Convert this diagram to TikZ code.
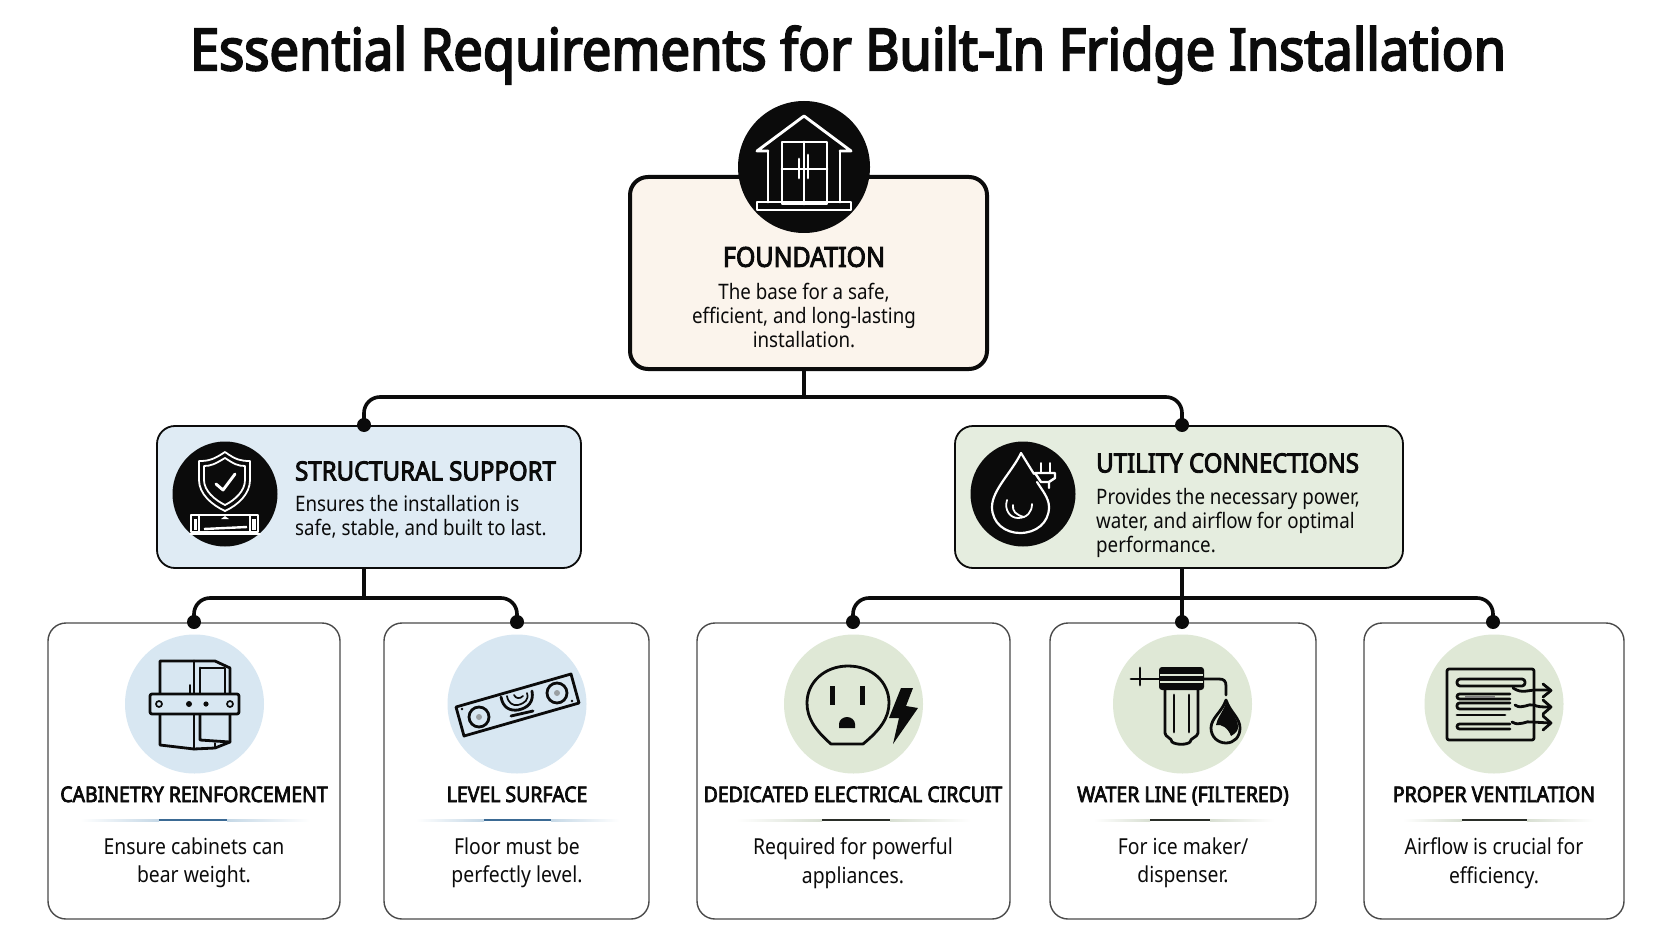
\documentclass[tikz,border=0pt]{standalone}
\usepackage{fontspec}
\setmainfont{Noto Sans}[FakeStretch=0.88]
\newfontfamily\boldface{Noto Sans}[FakeStretch=0.905,FakeBold=3.4]
\usetikzlibrary{calc}
\definecolor{ink}{HTML}{0B0B0B}
\definecolor{cream}{HTML}{FBF4EC}
\definecolor{paleblue}{HTML}{DFEBF4}
\definecolor{palegreen}{HTML}{E5EDDF}
\definecolor{discblue}{HTML}{D8E7F2}
\definecolor{discgreen}{HTML}{DFE8D6}
\definecolor{edge}{HTML}{4A4A4A}
\definecolor{ruleblue}{HTML}{3B6A94}
\definecolor{lightblue}{HTML}{C5D8E6}
\definecolor{rulegreen}{HTML}{2A2E28}
\definecolor{lightgreen}{HTML}{D8DFD2}
\tikzset{
  x=1pt,y=-1pt,
  conn/.style={draw=ink,line width=3.6pt,rounded corners=16pt},
  joint/.style={circle,fill=ink,minimum size=14pt,inner sep=0pt,outer sep=0pt},
  rootbox/.style={draw=ink,line width=4pt,fill=cream,rounded corners=18pt,inner sep=0pt,outer sep=0pt},
  midbox/.style={draw=ink,line width=1.8pt,rounded corners=18pt,inner sep=0pt,outer sep=0pt},
  card/.style={draw=edge,line width=1.4pt,fill=white,rounded corners=18pt,inner sep=0pt,outer sep=0pt},
  blackdisc/.style={circle,fill=ink,inner sep=0pt,outer sep=0pt},
  disc/.style={circle,minimum size=139pt,inner sep=0pt,outer sep=0pt},
  ttl/.style={text=ink,inner sep=0pt,font=\boldface\fontsize{58}{64}\selectfont},
  roothead/.style={text=ink,inner sep=0pt,font=\boldface\fontsize{27.5}{30}\selectfont},
  midhead/.style={text=ink,inner sep=0pt,anchor=west,font=\boldface\fontsize{26.5}{30}\selectfont},
  midtext/.style={text=ink,inner sep=0pt,anchor=north west,align=left,font=\fontsize{21.3}{24}\selectfont},
  roottext/.style={text=ink,inner sep=0pt,align=center,font=\fontsize{21.3}{24}\selectfont},
  cardhead/.style={text=ink,inner sep=0pt,anchor=base,font=\boldface\fontsize{21.5}{26}\selectfont},
  cardtext/.style={text=ink,inner sep=0pt,align=center,font=\fontsize{22}{28.5}\selectfont},
  wline/.style={draw=white,line width=2.9pt,line join=round,line cap=round},
  wthin/.style={draw=white,line width=1.8pt,line join=round,line cap=round},
  kline/.style={draw=ink,line width=2.8pt,line join=round,line cap=round},
  kthin/.style={draw=ink,line width=1.7pt,line join=round,line cap=round},
}
\newcommand{\cardrule}[6]{%
  \shade[left color=white,right color=#5] (#1,819) rectangle (#2,821);
  \shade[right color=white,left color=#5] (#3,819) rectangle (#4,821);
  \fill[#6] (#2,818.8) rectangle (#3,821.4);
}
\begin{document}
\begin{tikzpicture}
\useasboundingbox (0,0) rectangle (1672,941);
\fill[white] (0,0) rectangle (1672,941);

\node[ttl] (title) at (848,55) {Essential Requirements for Built-In Fridge Installation};

% boxes
\node[rootbox,minimum width=357pt,minimum height=192pt] (found) at (808.5,273) {};
\node[midbox,fill=paleblue,minimum width=424pt,minimum height=142pt] (struct) at (369,497) {};
\node[midbox,fill=palegreen,minimum width=448pt,minimum height=142pt] (util) at (1179,497) {};
\node[card,minimum width=292pt,minimum height=296pt] (c1) at (194,771) {};
\node[card,minimum width=265pt,minimum height=296pt] (c2) at (516.5,771) {};
\node[card,minimum width=313pt,minimum height=296pt] (c3) at (853.5,771) {};
\node[card,minimum width=266pt,minimum height=296pt] (c4) at (1183,771) {};
\node[card,minimum width=260pt,minimum height=296pt] (c5) at (1494,771) {};

% connectors
\coordinate (busTop) at (804,397);
\coordinate (busS) at (364,598);
\coordinate (busU) at (1182,598);
\node[joint] (jS) at (364,425) {};
\node[joint] (jU) at (1182,425) {};
\node[joint] (j1) at (194,622) {};
\node[joint] (j2) at (517,622) {};
\node[joint] (j3) at (853,622) {};
\node[joint] (j4) at (1182,622) {};
\node[joint] (j5) at (1493,622) {};
\draw[conn] (jS.center) |- (busTop) -| (jU.center);
\draw[conn] (804,369) -- (busTop);
\draw[conn] (j1.center) |- (busS) -| (j2.center);
\draw[conn] (364,568) -- (busS);
\draw[conn] (j3.center) |- (busU) -| (j5.center);
\draw[conn] (1182,568) -- (j4.center);

% main discs
\node[blackdisc,minimum size=132pt] (d0) at (804,167) {};
\node[blackdisc,minimum size=105pt] (d1) at (225,494) {};
\node[blackdisc,minimum size=105pt] (d2) at (1023,494) {};
\node[disc,fill=discblue] (e1) at (194.5,704) {};
\node[disc,fill=discblue] (e2) at (517,704) {};
\node[disc,fill=discgreen] (e3) at (853.5,704) {};
\node[disc,fill=discgreen] (e4) at (1182.5,704) {};
\node[disc,fill=discgreen] (e5) at (1494,704) {};

% house icon
\draw[wline] (768,151) -- (757,151) -- (804,116) -- (851,151) -- (840,151);
\draw[wline] (768,151) -- (768,202);
\draw[wline] (840,151) -- (840,202);
\draw[wline] (757,202) rectangle (851,210);
\draw[wline] (782,142) rectangle (827,204);
\draw[wline] (804,142) -- (804,204);
\draw[wline] (782,169) -- (827,169);
\draw[wline] (799,159) -- (799,178);
\draw[wline] (808,155) -- (808,178);

% shield icon
\draw[wthin] (225,452) .. controls (213,460) and (208,461) .. (199,461)
  -- (199,480) .. controls (199,494) and (212,505) .. (225,511)
  .. controls (238,505) and (250,494) .. (250,480) -- (250,461)
  .. controls (241,461) and (236,460) .. (225,452) -- cycle;
\draw[wthin] (225,458) .. controls (215,464) and (211,466) .. (204,466)
  -- (204,480) .. controls (204,491) and (215,500) .. (225,505)
  .. controls (235,500) and (245,491) .. (245,480) -- (245,466)
  .. controls (238,466) and (234,464) .. (225,458) -- cycle;
\draw[wline] (216,484) -- (223,490) -- (235,474);
\draw[wthin] (191,515) rectangle (258,532);
\draw[wthin] (190,534) -- (260,534);
\draw[wthin] (199,515) -- (199,532);
\draw[wthin] (250,515) -- (250,532);
\draw[white,line width=2.4pt] (204,529) -- (247,527);
\fill[white] (221,519) -- (229,519) -- (225,516) -- cycle;
\fill[white] (194,519) rectangle (197,530);
\fill[white] (252,519) rectangle (256,530);

% drop and plug icon
\draw[wthin,line width=2.2pt] (1021,453) .. controls (1012,472) and (992,490) .. (992,507)
  .. controls (992,523) and (1005,533) .. (1020,533)
  .. controls (1036,533) and (1049,523) .. (1049,507)
  .. controls (1049,498) and (1042,490) .. (1037,482);
\draw[wthin,line width=2.2pt] (1021,453) -- (1034,474);
\draw[wthin] (1007,500) .. controls (1004,510) and (1010,518) .. (1018,518)
  .. controls (1027,518) and (1032,512) .. (1032,504);
\draw[wthin] (1013,505) .. controls (1012,511) and (1016,515) .. (1024,517);
\draw[wthin] (1041,463) -- (1041,473);
\draw[wthin] (1050,463) -- (1050,473);
\draw[wline,line width=2.4pt] (1035,473) -- (1055,473) -- (1055,478) -- (1049,482) -- (1049,488);
\draw[wline,line width=2.4pt] (1035,473) -- (1041,482) -- (1049,482);

% cabinet icon
\draw[kline] (160,661) -- (215,661) -- (230,668) -- (230,742) -- (215,748) -- (194,749) -- (160,745) -- cycle;
\draw[kline] (194,661) -- (194,749);
\draw[kthin] (200,668) -- (225,668) -- (225,694);
\draw[kline] (200,668) -- (200,694);
\draw[kline] (200,714) -- (200,740) -- (230,742);
\draw[kthin] (215,748) -- (215,743);
\draw[kthin] (190,685) -- (190,694);
\draw[kline,fill=discblue,rounded corners=2pt] (150,694) rectangle (239,714);
\draw[kthin] (159,704) circle[radius=3];
\draw[kthin] (230,704) circle[radius=3];
\fill[ink] (189,704) circle[radius=3];
\fill[ink] (206,704) circle[radius=2.6];

% spirit level icon
\begin{scope}[xshift=-2pt]
\draw[kline] (458,707) -- (573,674) -- (581,703) -- (466,736) -- cycle;
\draw[kline] (481,717) circle[radius=10];
\draw[kline] (559,693) circle[radius=10];
\fill[gray!70!discblue] (481,717) circle[radius=3];
\fill[gray!70!discblue] (559,693) circle[radius=3];
\draw[kline] (503,697) .. controls (505,708) and (512,711) .. (520,710)
  .. controls (530,708) and (536,702) .. (534,691);
\draw[kthin] (509,696) .. controls (510,703) and (515,706) .. (520,705)
  .. controls (527,703) and (531,700) .. (529,693);
\draw[kthin] (516,695) .. controls (518,699) and (522,699) .. (525,696);
\draw[kline] (513,716) -- (535,711);
\fill[ink] (464,709) circle[radius=1.3];
\fill[ink] (574,701) circle[radius=1.3];
\end{scope}

% outlet icon
\draw[kline] (831,744) .. controls (815,730) and (807,718) .. (807,703)
  .. controls (807,682) and (825,666) .. (848,666)
  .. controls (872,666) and (889,682) .. (889,703)
  .. controls (889,718) and (880,730) .. (863,744) -- cycle;
\fill[ink] (829.5,686) rectangle (834.5,705);
\fill[ink] (859.5,686) rectangle (864.5,705);
\fill[ink] (839,728) -- (839,724) .. controls (839,720) and (843,717) .. (847,717)
  .. controls (851,717) and (855,720) .. (855,724) -- (855,728) -- cycle;
\fill[ink] (901,688) -- (913,688) -- (906,706) -- (918,708) -- (893,744) -- (899,718) -- (889,718) -- cycle;

% water filter icon
\draw[kline] (1131,679) -- (1159,679);
\draw[kline] (1140,668) -- (1140,685);
\draw[kline] (1204,679) -- (1219,679) .. controls (1224,679) and (1226,681) .. (1226,686) -- (1226,695);
\fill[ink,rounded corners=3pt] (1159,667) rectangle (1204,690);
\draw[discgreen,line width=1.2pt] (1160,675) -- (1203,675);
\draw[discgreen,line width=1.2pt] (1160,682) -- (1203,682);
\draw[kline] (1165,690) -- (1165,733) .. controls (1165,737) and (1172,738) .. (1172,742)
  .. controls (1176,745) and (1187,745) .. (1190,742)
  .. controls (1190,738) and (1198,737) .. (1198,733) -- (1198,690);
\draw[kline] (1174,695) -- (1174,732);
\draw[kline] (1189,695) -- (1189,732);
\draw[kline] (1226,700) .. controls (1222,712) and (1211,718) .. (1211,728)
  .. controls (1211,737) and (1218,743) .. (1226,743)
  .. controls (1234,743) and (1240,737) .. (1240,728)
  .. controls (1240,718) and (1230,712) .. (1226,700) -- cycle;
\fill[ink] (1226,703) .. controls (1223,712) and (1217,718) .. (1216,725)
  .. controls (1222,724) and (1228,728) .. (1231,736)
  .. controls (1236,733) and (1238,731) .. (1238,727)
  .. controls (1238,718) and (1230,712) .. (1226,703) -- cycle;

% vent icon
\draw[kline,rounded corners=2pt] (1447,669) rectangle (1534,740);
\draw[kline,rounded corners=3pt] (1513,686) -- (1457,686) -- (1457,679) -- (1525,679) -- (1525,686) -- (1513,686);
\draw[kline,rounded corners=2.5pt] (1510,699) -- (1457,699) -- (1457,694) -- (1510,694);
\draw[gray,line width=2pt] (1465,696.5) -- (1495,696.5);
\draw[kline,rounded corners=2.5pt] (1510,709) -- (1457,709) -- (1457,703) -- (1510,703);
\draw[kline] (1457,715) -- (1505,715);
\draw[kline,rounded corners=2.5pt] (1510,729) -- (1457,729) -- (1457,724) -- (1510,724);
\draw[kline] (1513,688) .. controls (1522,694) and (1528,690) .. (1536,690) -- (1550,690);
\draw[kline] (1515,705) .. controls (1522,710) and (1528,703) .. (1534,705) .. controls (1538,707) and (1542,707) .. (1550,707);
\draw[kline] (1512,722) .. controls (1520,727) and (1526,720) .. (1532,722) -- (1550,723);
\draw[kline] (1543,684) -- (1551,690.5) -- (1543,697);
\draw[kline] (1543,700) -- (1551,707) -- (1543,714);
\draw[kline] (1543,716) -- (1551,723) -- (1543,730);

% texts
\node[roothead] (t0) at (804,257) {FOUNDATION};
\node[roottext] (b0) at (804,316) {The base for a safe,\\efficient, and long-lasting\\installation.};
\node[midhead] (t1) at (295,471) {STRUCTURAL SUPPORT};
\node[midtext] (b1) at (295,495.3) {Ensures the installation is\\safe, stable, and built to last.};
\node[midhead] (t2) at (1096,463) {UTILITY CONNECTIONS};
\node[midtext] (b2) at (1096,488.3) {Provides the necessary power,\\water, and airflow for optimal\\performance.};

\node[cardhead] (h1) at (194,802) {CABINETRY REINFORCEMENT};
\node[cardhead] (h2) at (517,802) {LEVEL SURFACE};
\node[cardhead] (h3) at (853,802) {DEDICATED ELECTRICAL CIRCUIT};
\node[cardhead] (h4) at (1183,802) {WATER LINE (FILTERED)};
\node[cardhead] (h5) at (1494,802) {PROPER VENTILATION};
\cardrule{80}{159}{227}{310}{lightblue}{ruleblue}
\cardrule{416}{484}{551}{619}{lightblue}{ruleblue}
\cardrule{736}{822}{890}{971}{lightgreen}{rulegreen}
\cardrule{1094}{1150}{1210}{1274}{lightgreen}{rulegreen}
\cardrule{1403}{1462}{1527}{1594}{lightgreen}{rulegreen}
\node[cardtext] (p1) at (194,863) {Ensure cabinets can\\bear weight.};
\node[cardtext] (p2) at (517,863) {Floor must be\\perfectly level.};
\node[cardtext] (p3) at (853,863) {Required for powerful\\appliances.};
\node[cardtext] (p4) at (1183,863) {For ice maker/\\dispenser.};
\node[cardtext] (p5) at (1494,863) {Airflow is crucial for\\efficiency.};
\end{tikzpicture}
\end{document}
